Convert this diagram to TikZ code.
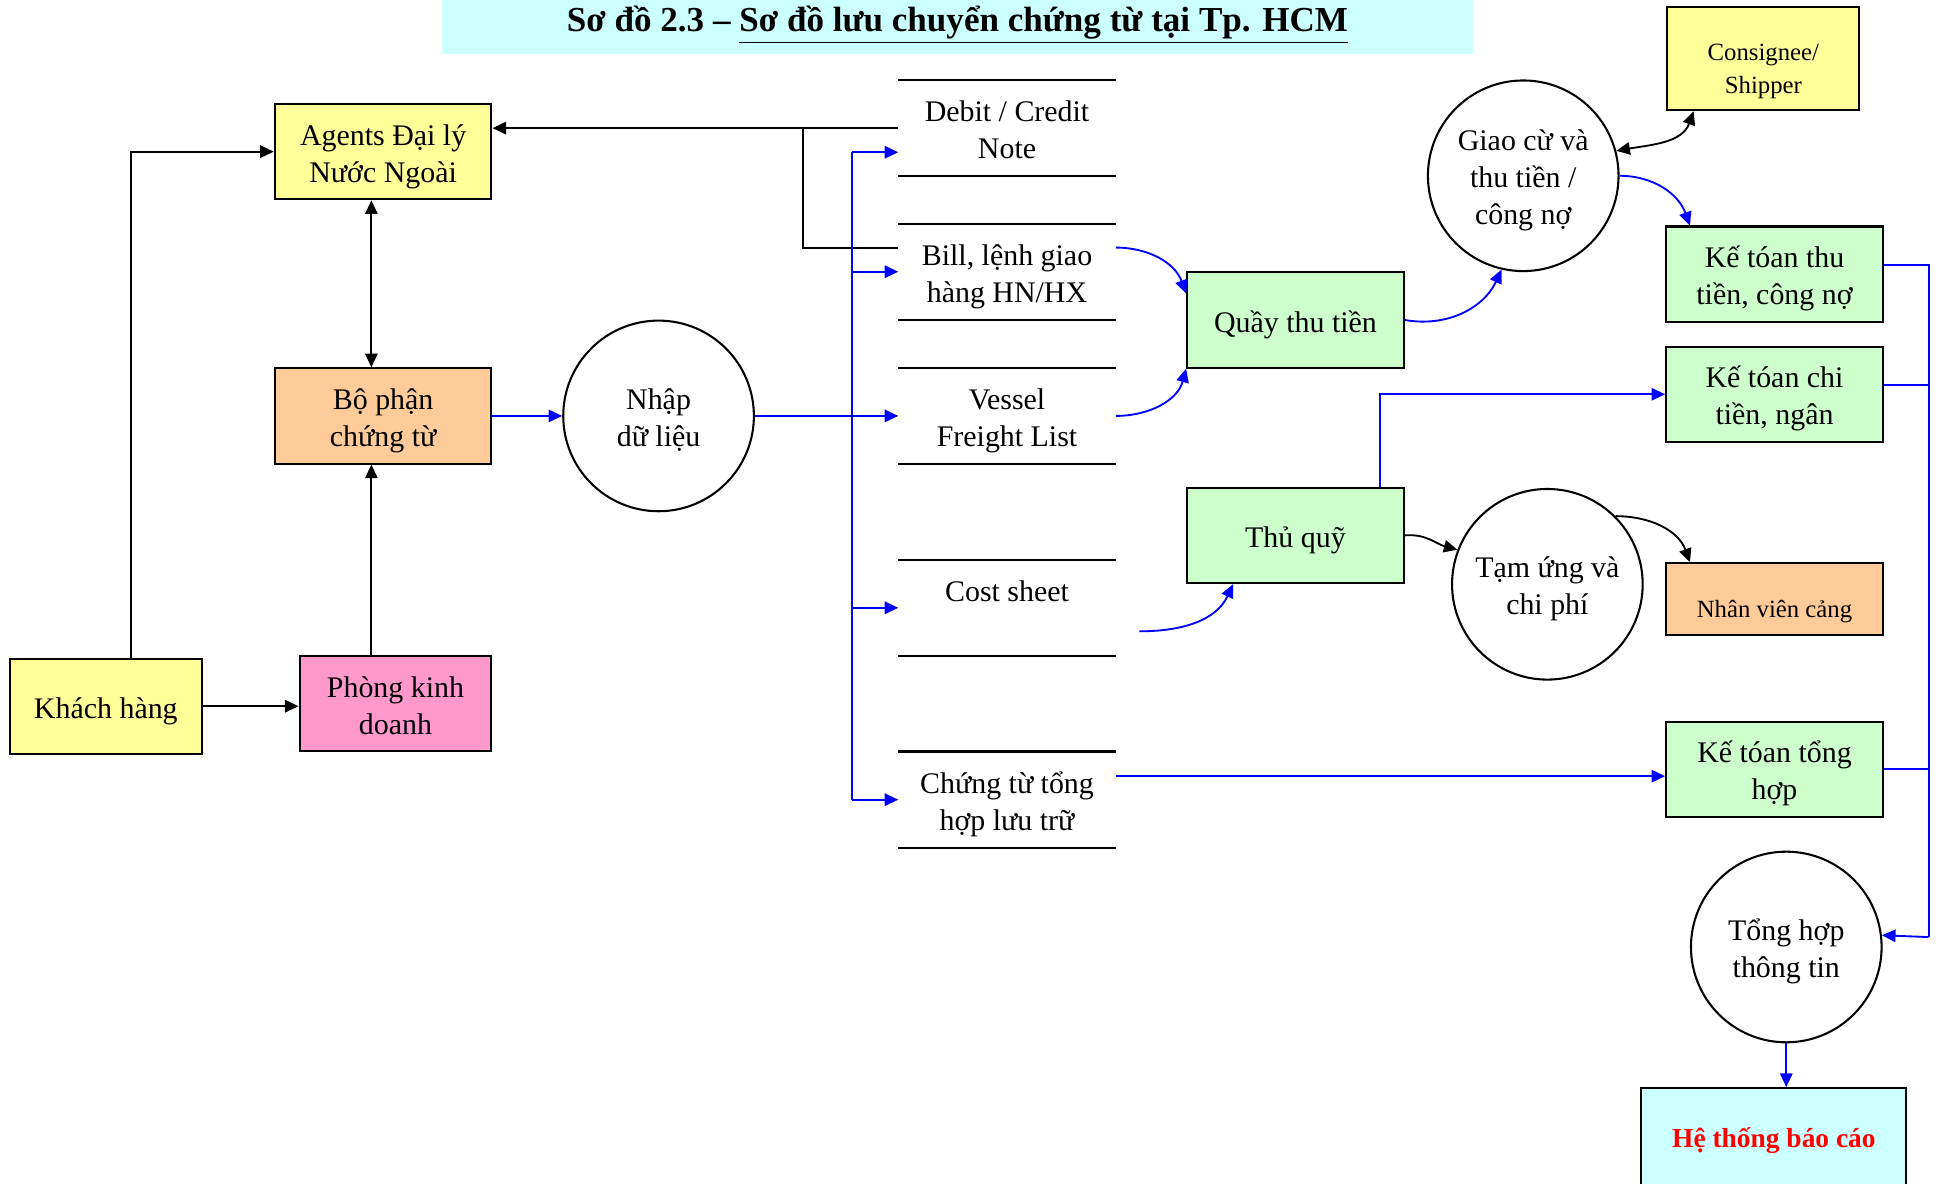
\documentclass[tikz,border=0pt]{standalone}
\usepackage{fontspec}
\setmainfont{Liberation Serif}
\usetikzlibrary{arrows.meta,calc}
\definecolor{ylw}{HTML}{FFFF99}
\definecolor{peach}{HTML}{FFCC99}
\definecolor{pinkish}{HTML}{FF99CC}
\definecolor{lgreen}{HTML}{CCFFCC}
\definecolor{lcyan}{HTML}{CCFFFF}
% fixed line heights, so every label sits the same way in its frame
\newcommand\topst{\rule{0pt}{15.2pt}}
\newcommand\botst{\rule[-3.5pt]{0pt}{0pt}}
\newcommand\topsm{\rule{0pt}{20.3pt}}
\newcommand\botsm{\rule[-2.6pt]{0pt}{0pt}}
\begin{document}
\begin{tikzpicture}[x=0.6pt,y=-0.6pt,
  every node/.style={font=\fontsize{14.5}{18}\selectfont, align=center},
  box/.style={draw=black, line width=1pt, minimum width=105pt, minimum height=46.2pt, inner sep=0pt},
  smallbox/.style={draw=black, line width=1pt, minimum width=105pt, inner sep=0pt, font=\fontsize{12}{15.6}\selectfont},
  proc/.style={draw=black, line width=1pt, circle, minimum size=92.4pt, inner sep=0pt},
  store/.style={minimum width=105pt, minimum height=46.2pt, inner sep=0pt},
  storeline/.style={line width=1.1pt},
  ln/.style={line width=0.9pt},
  arr/.style={line width=0.9pt, -{Triangle[length=6.6pt,width=6pt]}},
  darr/.style={line width=0.9pt, {Triangle[length=6.6pt,width=6pt]}-{Triangle[length=6.6pt,width=6pt]}},
]
\useasboundingbox (0,0) rectangle (1568,956);

% title band
\fill[lcyan] (357,0) rectangle (1190,44);
\node[font=\bfseries\fontsize{17}{20}\selectfont] (title) at (773.5,20)
  {Sơ đồ 2.3 – \underline{Sơ đồ lưu chuyển chứng từ tại Tp. HCM}};

% left side
\node[box, fill=ylw] (ag) at (309.5,122.5) {\topst Agents Đại lý\\Nước Ngoài\botst};
\node[box, fill=peach] (bp) at (309.5,336) {\topst Bộ phận\\chứng từ\botst};
\node[box, fill=ylw, minimum width=93pt] (kh) at (85.5,570.5) {\topst Khách hàng\botst};
\node[box, fill=pinkish, minimum width=93pt] (pk) at (319.5,568.5) {\topst Phòng kinh\\doanh\botst};
\node[proc] (nh) at (532,336) {\topst Nhập\\dữ liệu\botst};

% document stores
\node[store] (dc) at (813.5,103.5) {\topst Debit / Credit\\Note\botst};
\node[store] (bi) at (813.5,219.5) {\topst Bill, lệnh giao\\hàng HN/HX\botst};
\node[store] (vs) at (813.5,336) {\topst Vessel\\Freight List\botst};
\node[store] (co) at (813.5,491) {\topst Cost sheet\\\botst};
\node[store] (ct) at (813.5,646) {\topst Chứng từ tổng\\hợp lưu trữ\botst};
\foreach \s in {dc,bi,vs,co,ct}{
  \draw[storeline] (\s.north west) -- (\s.north east);
  \draw[storeline] (\s.south west) -- (\s.south east);
}

% cashier side
\node[box, fill=lgreen] (qt) at (1046.5,258.5) {\topst Quầy thu tiền\botst};
\node[box, fill=lgreen] (tq) at (1046.5,432.5) {\topst Thủ quỹ\botst};
\node[proc] (gi) at (1230.5,142) {\topst Giao cừ và\\thu tiền /\\công nợ\botst};
\node[proc] (tu) at (1250,472) {\topst Tạm ứng và\\chi phí\botst};

% accounting side
\node[smallbox, fill=ylw, minimum width=93pt, minimum height=49.8pt] (cs) at (1424.5,47.5) {\topsm Consignee/\\Shipper\botsm};
\node[box, fill=lgreen] (kt) at (1433.5,221.5) {\topst Kế tóan thu\\tiền, công nợ\botst};
\node[box, fill=lgreen] (kc) at (1433.5,318.5) {\topst Kế tóan chi\\tiền, ngân\botst};
\node[smallbox, fill=peach, minimum height=34.8pt] (nv) at (1433.5,484) {\topsm Nhân viên cảng\botsm};
\node[box, fill=lgreen] (kth) at (1433.5,621.5) {\topst Kế tóan tổng\\hợp\botst};
\node[proc] (th) at (1443,765) {\topst Tổng hợp\\thông tin\botst};
\node[draw=black, line width=1pt, inner sep=0pt, fill=lcyan, minimum width=128.4pt, minimum height=50.4pt,
      font=\bfseries\fontsize{13.3}{16}\selectfont, text=red] (ht) at (1433,921) {Hệ thống báo cáo};

% black connectors
\coordinate (vx) at (300,0);
\coordinate (jn) at (649,0);
\draw[arr] (kh.east) -- (kh.east -| pk.west);
\draw[arr] (vx |- pk.north) -- (vx |- bp.south);
\draw[darr] (vx |- ag.south) -- (vx |- bp.north);
\draw[arr] ([xshift=12.3pt]kh.north) |- (ag.west);
\draw[arr] (dc.west) -- (dc.west -| ag.east);
\draw[ln] ([yshift=11.7pt]bi.west) -| (jn |- dc.west);
\draw[darr] (gi.15) to[out=10,in=-110] ([xshift=13.2pt]cs.south west);
\draw[arr] (tq.east) to[out=5,in=165] (tu.159);
\draw[arr] (tu.45) to[out=0,in=110] ([xshift=12pt]nv.north west);

% blue connectors
\coordinate (bx) at (688,0);
\coordinate (dcin) at ([yshift=-11.7pt]dc.west);
\begin{scope}[blue]
\draw[arr] (bp.east) -- (nh.west);
\draw[arr] (nh.east) -- (vs.west);
\draw[ln] (bx |- dcin) -- (bx |- ct.west);
\draw[arr] (bx |- dcin) -- (dcin);
\draw[arr] (bx |- bi.west) -- (bi.west);
\draw[arr] (bx |- co.west) -- (co.west);
\draw[arr] (bx |- ct.west) -- (ct.west);
\draw[arr] ([yshift=11.7pt]bi.east) to[out=0,in=110] ([yshift=-10.8pt]qt.north west);
\draw[arr] (vs.east) to[out=0,in=-105] (qt.south west);
\draw[arr] ([xshift=11.4pt,yshift=-11.4pt]co.east) to[out=0,in=-115] ([xshift=22.8pt]tq.south west);
\draw[arr] (qt.east) to[out=-10,in=-115] (gi.-103);
\draw[arr] (gi.east) to[out=0,in=110] ([xshift=12pt]kt.north west);
\draw[arr] ([xshift=-12pt]tq.north east) |- (kc.west);
\draw[arr] ([yshift=11.4pt]ct.east) -- ([yshift=11.4pt]ct.east -| kth.west);
\coordinate (rb) at (1558,757);
\draw[ln] ([yshift=4.5pt]kt.east) -| (rb);
\draw[ln] ([yshift=4.5pt]kc.east) -- ([yshift=4.5pt]kc.east -| rb);
\draw[ln] (kth.east) -- (kth.east -| rb);
\draw[arr] (rb) -- (th.7);
\draw[arr] (th.south) -- (th.south |- ht.north);
\end{scope}
\end{tikzpicture}
\end{document}
